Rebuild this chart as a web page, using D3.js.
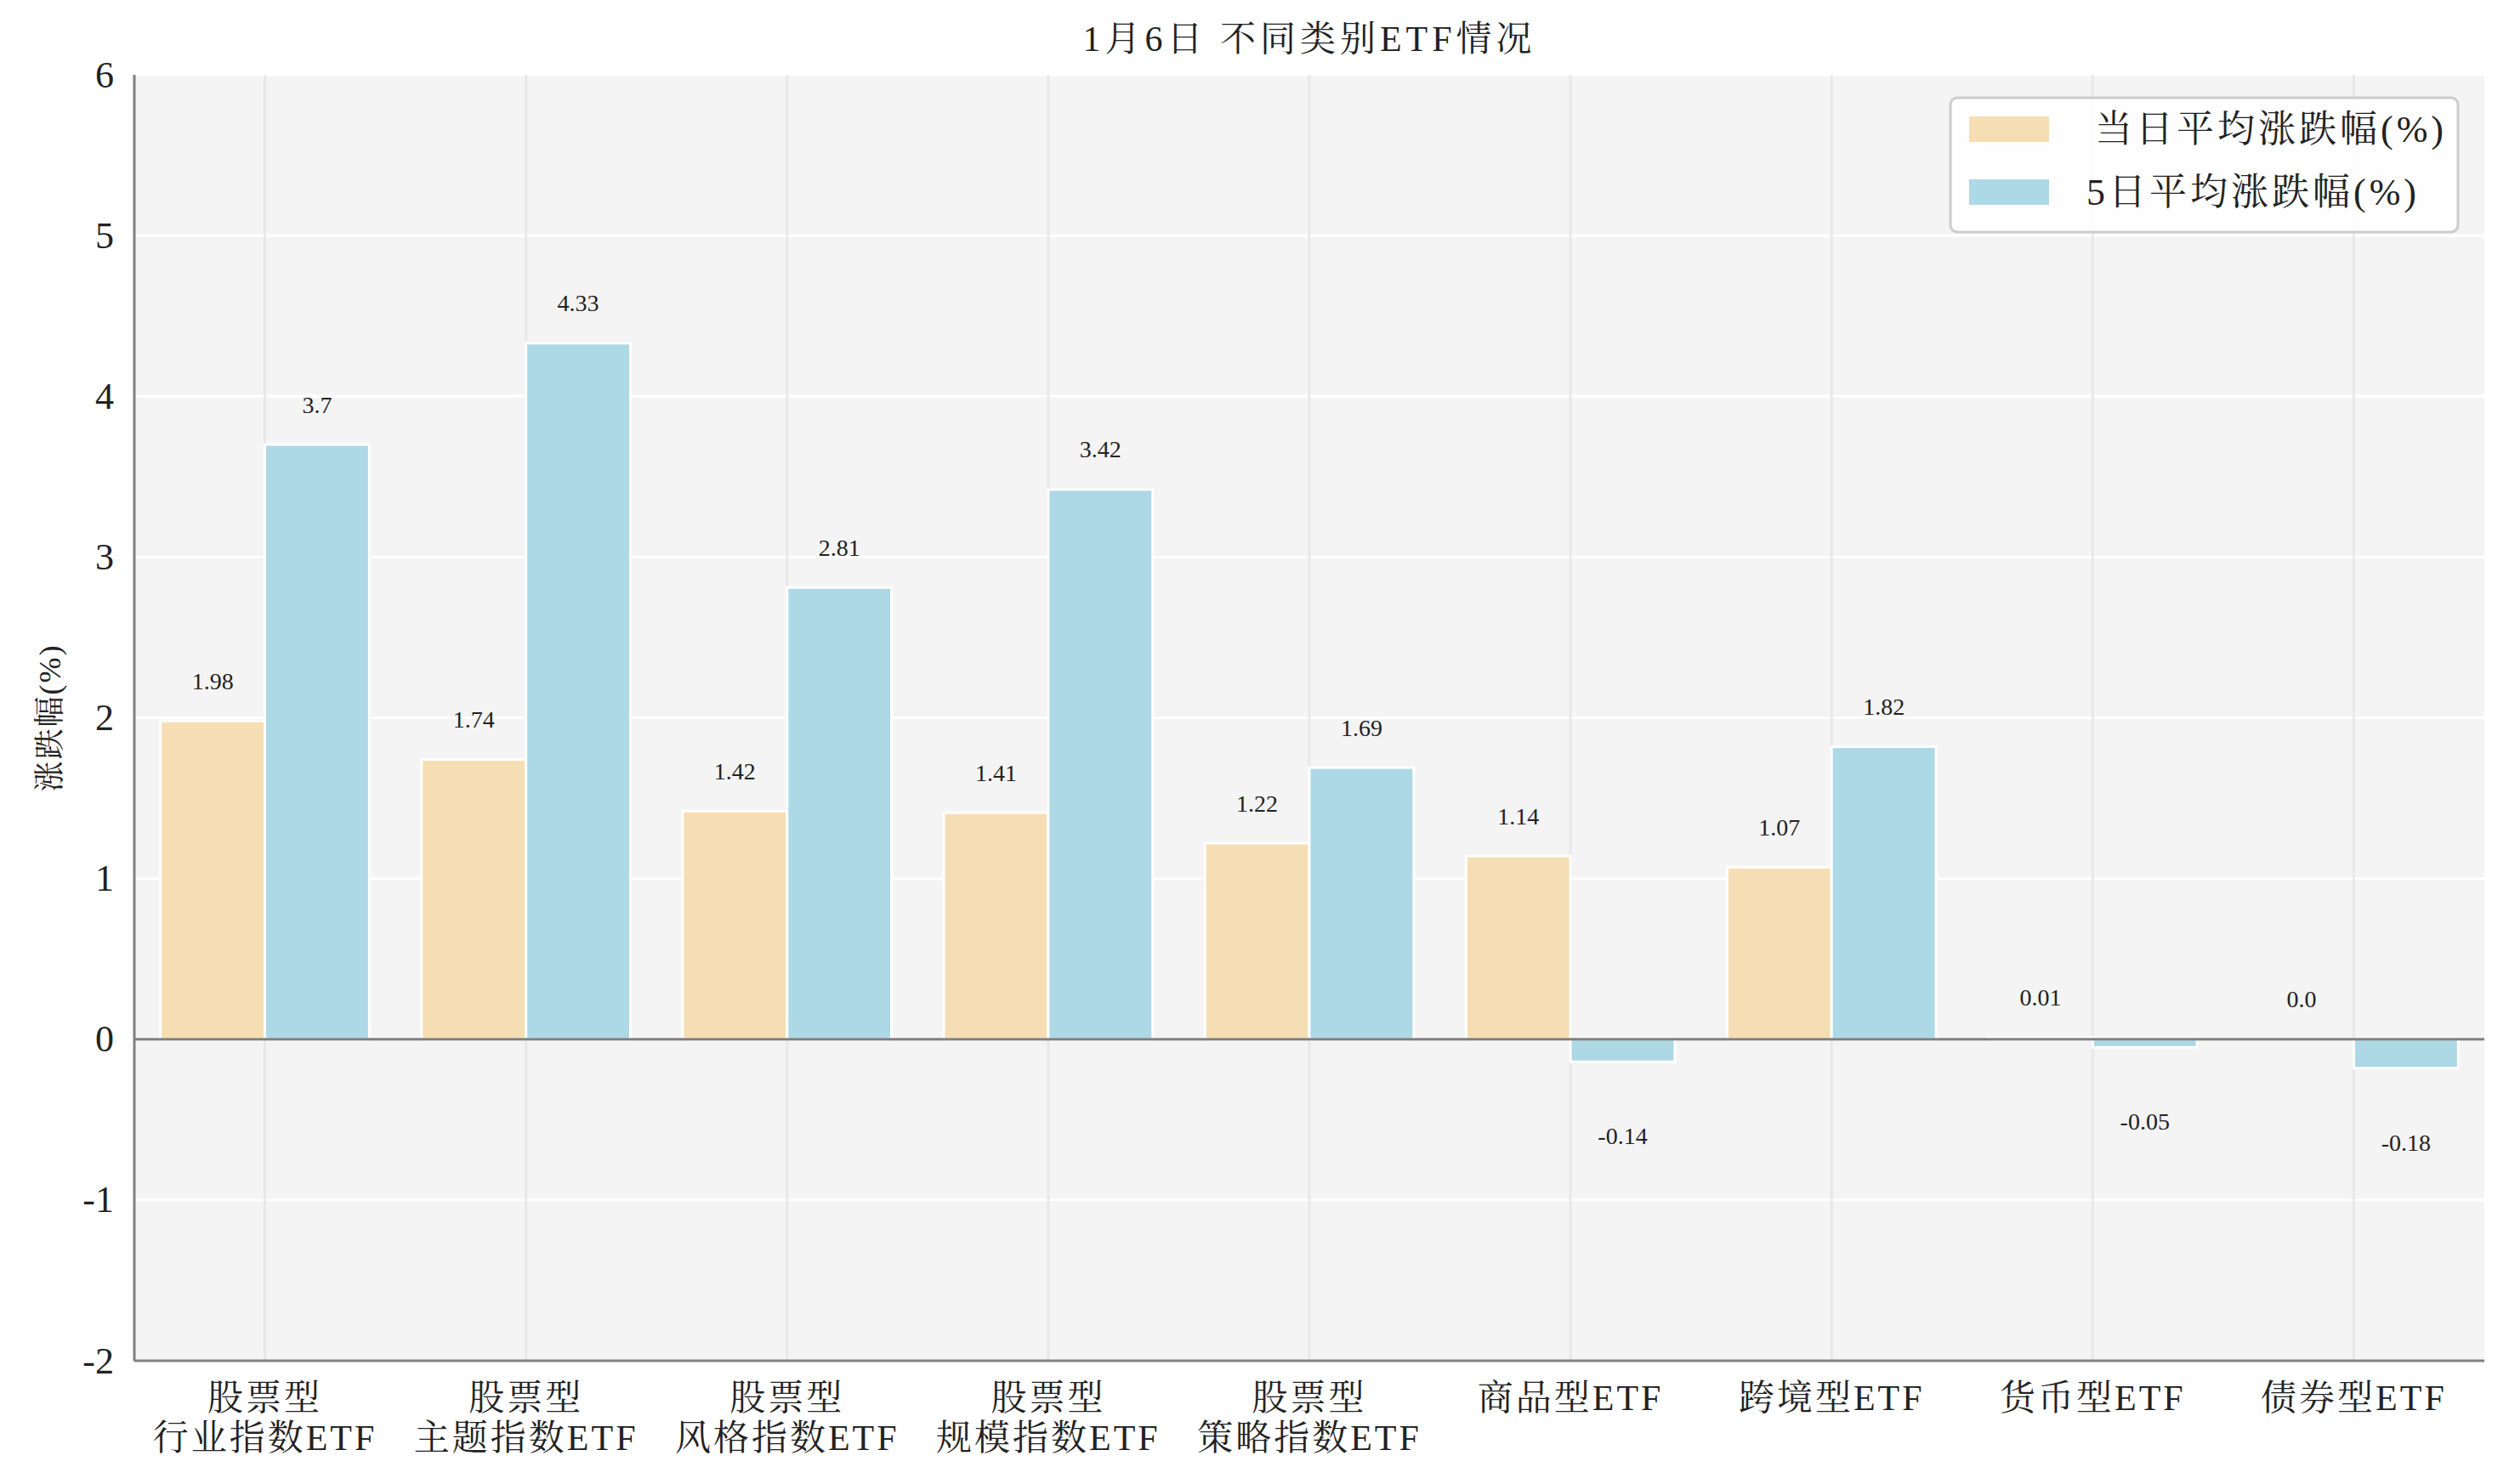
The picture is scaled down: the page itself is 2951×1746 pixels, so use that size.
<!DOCTYPE html>
<html>
<head>
<meta charset="utf-8">
<script src="https://cdnjs.cloudflare.com/ajax/libs/d3/7.8.5/d3.min.js"></script>
<style>
  body { margin: 0; background: #fff; }
  text { font-family: "Liberation Serif", "Noto Serif CJK SC", "Noto Sans CJK SC", serif; fill: #222; }
</style>
</head>
<body>
<div id="chart"></div>
<script>
var WIDTH = 2951, HEIGHT = 1746;
var margin = {top: 88, right: 29, bottom: 145, left: 158};

var categories = [
  ["股票型", "行业指数ETF"],
  ["股票型", "主题指数ETF"],
  ["股票型", "风格指数ETF"],
  ["股票型", "规模指数ETF"],
  ["股票型", "策略指数ETF"],
  ["商品型ETF"],
  ["跨境型ETF"],
  ["货币型ETF"],
  ["债券型ETF"]
];
var dailyChange = [1.98, 1.74, 1.42, 1.41, 1.22, 1.14, 1.07, 0.01, 0.0];
var fiveDayChange = [3.7, 4.33, 2.81, 3.42, 1.69, -0.14, 1.82, -0.05, -0.18];
var seriesNames = ["当日平均涨跌幅(%)", "5日平均涨跌幅(%)"];
var seriesColors = ["#f5deb3", "#add8e6"];
var yTicks = [-2, -1, 0, 1, 2, 3, 4, 5, 6];
var yDomain = [-2, 6];

var innerW = WIDTH - margin.left - margin.right;
var innerH = HEIGHT - margin.top - margin.bottom;

var svg = d3.select("#chart").append("svg")
  .attr("width", WIDTH)
  .attr("height", HEIGHT);

var g = svg.append("g")
  .attr("transform", "translate(" + margin.left + "," + margin.top + ")");

var idx = d3.range(categories.length);
var xScale = d3.scaleBand().domain(idx).range([0, innerW]).padding(0);
var yScale = d3.scaleLinear().domain(yDomain).range([innerH, 0]);
var step = xScale.bandwidth();
var barW = step * 0.4;

// plot background
g.append("rect")
  .attr("width", innerW)
  .attr("height", innerH)
  .attr("fill", "#f4f4f4");

// grid
g.selectAll(".hgrid").data(yTicks).enter().append("line")
  .attr("x1", 0).attr("x2", innerW)
  .attr("y1", d => yScale(d)).attr("y2", d => yScale(d))
  .style("stroke", "#ffffff")
  .style("stroke-width", 3);

g.selectAll(".vgrid").data(idx).enter().append("line")
  .attr("x1", d => xScale(d) + step / 2).attr("x2", d => xScale(d) + step / 2)
  .attr("y1", 0).attr("y2", innerH)
  .style("stroke", "#e8e8e8")
  .style("stroke-width", 3);

// bars
var series = [dailyChange, fiveDayChange];
series.forEach(function(vals, s) {
  g.selectAll(".bar" + s).data(vals).enter().append("rect")
    .attr("x", (d, i) => xScale(i) + step / 2 + (s === 0 ? -barW : 0))
    .attr("y", d => yScale(Math.max(0, d)))
    .attr("width", barW)
    .attr("height", d => Math.abs(yScale(d) - yScale(0)))
    .attr("fill", seriesColors[s])
    .style("stroke", "#ffffff")
    .style("stroke-width", 3);

  g.selectAll(".lab" + s).data(vals).enter().append("text")
    .attr("x", (d, i) => xScale(i) + step / 2 + (s === 0 ? -barW / 2 : barW / 2))
    .attr("y", d => d >= 0 ? yScale(d + 0.25) : yScale(d - 0.46))
    .attr("dy", "0.35em")
    .style("text-anchor", "middle")
    .style("font-size", "28px")
    .text(d => Number.isInteger(d) ? d.toFixed(1) : String(d));
});

// zero line
g.append("line")
  .attr("x1", 0).attr("x2", innerW)
  .attr("y1", yScale(0)).attr("y2", yScale(0))
  .style("stroke", "#808080")
  .style("stroke-width", 3);

// y axis
var yAxis = g.append("g")
  .call(d3.axisLeft(yScale).tickValues(yTicks).tickSize(0).tickPadding(24).tickFormat(d => String(d)))
  .call(g => g.select(".domain").remove());
yAxis.selectAll("text").style("font-size", "44px").style("fill", "#222");

// spines
g.append("line")
  .attr("x1", 0).attr("x2", 0).attr("y1", 0).attr("y2", innerH)
  .style("stroke", "#808080").style("stroke-width", 3);
g.append("line")
  .attr("x1", 0).attr("x2", innerW).attr("y1", innerH).attr("y2", innerH)
  .style("stroke", "#808080").style("stroke-width", 3);

// x labels
var xLab = g.selectAll(".xlab").data(categories).enter().append("text")
  .attr("x", (d, i) => xScale(i) + step / 2)
  .attr("y", innerH + 58)
  .style("text-anchor", "middle")
  .style("font-size", "42px")
  .style("letter-spacing", "3px");
xLab.each(function(lines) {
  var t = d3.select(this);
  lines.forEach(function(line, k) {
    t.append("tspan")
      .attr("x", t.attr("x"))
      .attr("dy", k === 0 ? 0 : "1.12em")
      .text(line);
  });
});

// title
svg.append("text")
  .attr("x", margin.left + innerW / 2)
  .attr("y", 60)
  .style("text-anchor", "middle")
  .style("font-size", "42px")
  .style("letter-spacing", "5px")
  .text("1月6日 不同类别ETF情况");

// y label
svg.append("text")
  .attr("transform", "rotate(-90)")
  .attr("x", -(yScale(2) + margin.top))
  .attr("y", 58)
  .attr("dy", "0.35em")
  .style("text-anchor", "middle")
  .style("font-size", "36px")
  .style("letter-spacing", "2px")
  .text("涨跌幅(%)");

// legend
var legend = svg.append("g").attr("transform", "translate(2294,115)");
legend.append("rect")
  .attr("width", 597).attr("height", 158)
  .attr("rx", 8)
  .attr("fill", "#ffffff").attr("fill-opacity", 0.85)
  .style("stroke", "#cccccc").style("stroke-width", 3);
seriesNames.forEach(function(name, i) {
  legend.append("rect")
    .attr("x", 22).attr("y", 22 + i * 74)
    .attr("width", 94).attr("height", 30)
    .attr("fill", seriesColors[i]);
  legend.append("text")
    .attr("x", i === 0 ? 170 : 160).attr("y", 37 + i * 74)
    .attr("dy", "0.35em")
    .style("font-size", "44px")
    .style("letter-spacing", "4px")
    .text(name);
});
</script>
</body>
</html>
